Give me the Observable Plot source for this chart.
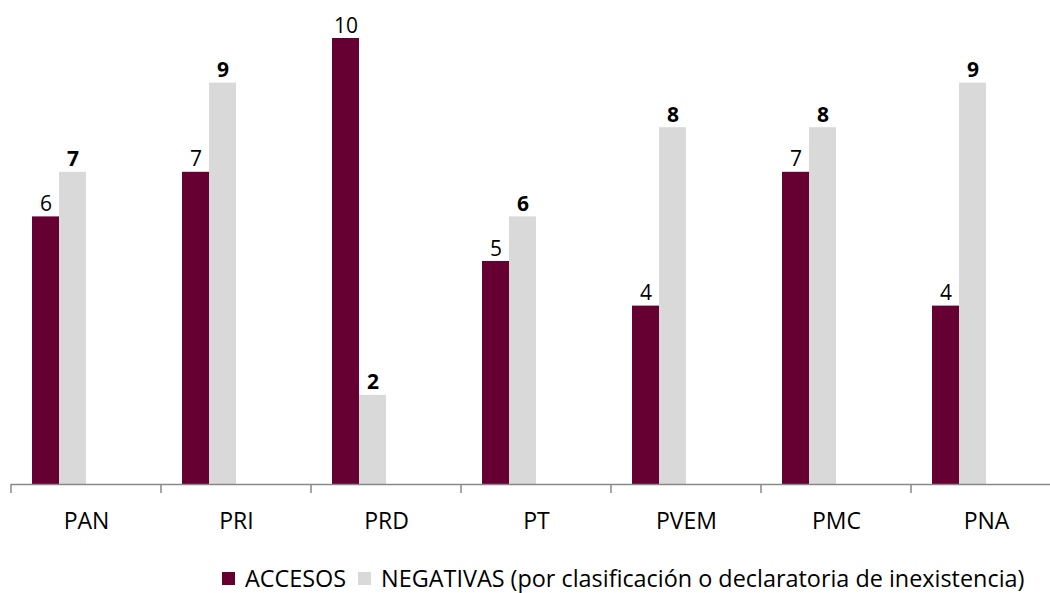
<!DOCTYPE html>
<html>
<head>
<meta charset="utf-8">
<script src="https://cdn.jsdelivr.net/npm/d3@7"></script>
<script src="https://cdn.jsdelivr.net/npm/@observablehq/plot@0.6"></script>
<style>
  html, body { margin: 0; padding: 0; background: #fff; overflow: hidden; }
  body { width: 1050px; height: 593px; font-family: "Open Sans", Lato, sans-serif; }
  #chart svg { display: block; overflow: visible; }
  #legend { position: absolute; left: 222px; top: 563px; display: flex; align-items: center;
            font-size: 23.4px; color: #000; white-space: nowrap; line-height: 30px; }
  #legend .sw { display: inline-block; width: 13px; height: 13px; margin-right: 10px; }
  #legend .item { display: flex; align-items: center; margin-right: 12px; }
</style>
</head>
<body>
<div id="chart"></div>
<div id="legend"></div>
<script>
const categories = ["PAN", "PRI", "PRD", "PT", "PVEM", "PMC", "PNA"];
const series = ["ACCESOS", "NEGATIVAS (por clasificación o declaratoria de inexistencia)"];
const accesos = [6, 7, 10, 5, 4, 7, 4];
const negativas = [7, 9, 2, 6, 8, 8, 9];
const colors = ["#660033", "#D9D9D9"];

const data = [];
categories.forEach((c, i) => {
  data.push({party: c, serie: series[0], value: accesos[i]});
  data.push({party: c, serie: series[1], value: negativas[i]});
});

const plot = Plot.plot({
  width: 1050,
  height: 550,
  marginTop: 38,
  marginBottom: 66,
  marginLeft: 10,
  marginRight: -11,
  style: {fontFamily: "'Open Sans', Lato, sans-serif", fontSize: "23px", color: "#000", background: "#fff"},
  fx: {domain: categories, padding: 0, label: null, axis: "bottom", tickSize: 0, tickPadding: 28},
  x: {domain: series, paddingInner: 0, paddingOuter: 1.74, align: 0.214, axis: null},
  y: {domain: [0, 10], axis: null},
  color: {domain: series, range: colors},
  marks: [
    Plot.barY(data, {fx: "party", x: "serie", y: "value", fill: "serie", insetLeft: 0, insetRight: 0}),
    Plot.text(data.filter(d => d.serie === series[0]), {
      fx: "party", x: "serie", y: "value", text: d => String(d.value),
      lineAnchor: "bottom", dy: -6, fontSize: 21, fill: "#000"
    }),
    Plot.text(data.filter(d => d.serie === series[1]), {
      fx: "party", x: "serie", y: "value", text: d => String(d.value),
      lineAnchor: "bottom", dy: -6, fontSize: 21, fontWeight: "bold", fill: "#000"
    }),
    Plot.ruleY([0], {stroke: "#898989", strokeWidth: 1.5})
  ]
});

document.getElementById("chart").appendChild(plot);

// Category boundary tick marks (Excel style) from the library's fx and y scales
const fx = plot.scale("fx");
const ys = plot.scale("y");
const y0 = ys.apply(0);
const bounds = categories.map(c => fx.apply(c));
bounds.push(fx.apply(categories[categories.length - 1]) + fx.bandwidth);
d3.select(plot).append("g")
  .attr("stroke", "#898989").attr("stroke-width", 1.5)
  .selectAll("line").data(bounds).join("line")
  .attr("x1", d => d).attr("x2", d => d)
  .attr("y1", y0).attr("y2", y0 + 9);

// Legend
const legend = d3.select("#legend");
series.forEach((s, i) => {
  const item = legend.append("div").attr("class", "item");
  item.append("span").attr("class", "sw").style("background", colors[i]);
  item.append("span").text(s);
});
</script>
</body>
</html>
